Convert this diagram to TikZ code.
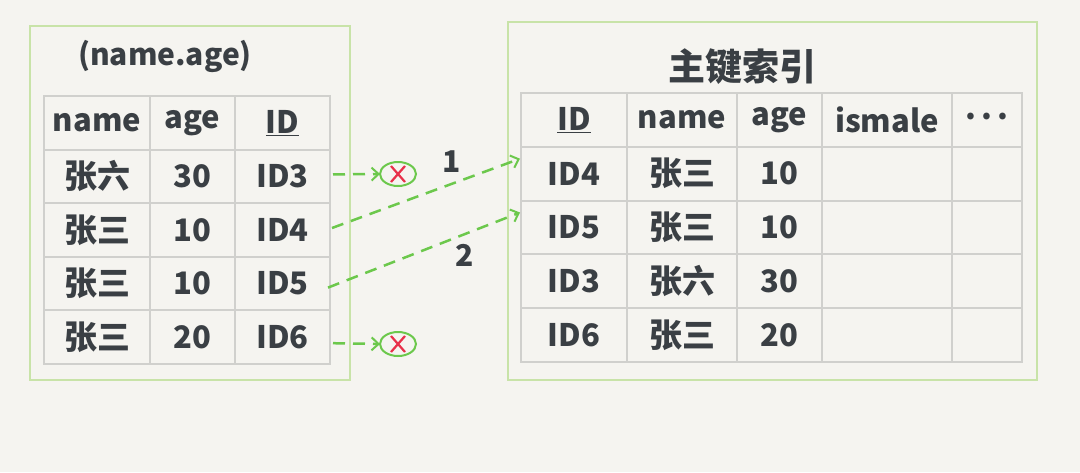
\documentclass[tikz,border=0pt]{standalone}
\usepackage{fontspec}
\setmainfont{Noto Sans CJK SC}
\usetikzlibrary{arrows.meta,shapes.geometric}
\definecolor{bg}{HTML}{F5F4F0}
\definecolor{frame}{HTML}{C8E3A8}
\definecolor{gridc}{HTML}{D0D0CD}
\definecolor{ink}{HTML}{3A3F44}
\definecolor{arr}{HTML}{6CC84C}
\definecolor{crossc}{HTML}{E8304A}
\newcommand\zhtxt[1]{{\fontsize{33}{33}\selectfont #1}}
\newcommand\dotsrow{\raisebox{7pt}{.\hspace{5pt}.\hspace{5pt}.}}
\begin{document}
\begin{tikzpicture}[x=1pt,y=-1pt,
  every node/.style={inner sep=0pt, outer sep=0pt},
  cell/.style={draw=gridc, line width=2pt, text=ink, font=\fontsize{31}{31}\selectfont\bfseries},
  outerframe/.style={draw=frame, line width=2pt},
  flow/.style={draw=arr, line width=2.5pt, dash pattern=on 12pt off 8pt, -{Straight Barb[length=7pt,width=13pt,line width=2pt]}},
  badend/.style={ellipse, draw=arr, line width=2pt, minimum width=36pt, minimum height=24pt},
  crossline/.style={draw=crossc, line width=2.2pt},
  lbl/.style={text=ink, font=\fontsize{30}{30}\selectfont\bfseries}]
\fill[bg] (0,0) rectangle (1080,472);
\useasboundingbox (0,0) rectangle (1080,472);

% frames
\draw[outerframe] (30,26) rectangle (350,380);
\draw[outerframe] (508,22) rectangle (1037,380);

% titles
\node[lbl] (ltitle) at (165,56) {(name.age)};
\node[lbl, font=\fontsize{37}{37}\selectfont\bfseries] (rtitle) at (742,67) {主键索引};

% left table
\foreach \r/\y/\a/\b/\c in {0/122.8/name/age/{\underline{ID}},1/176.4/\zhtxt{张六}/30/ID3,2/230/\zhtxt{张三}/10/ID4,3/283.6/\zhtxt{张三}/10/ID5,4/337.2/\zhtxt{张三}/20/ID6}{
  \node[cell, minimum width=106pt, minimum height=53.6pt] (L\r-1) at (97,\y) {\a};
  \node[cell, minimum width=85pt, minimum height=53.6pt] (L\r-2) at (192.5,\y) {\b};
  \node[cell, minimum width=95pt, minimum height=53.6pt] (L\r-3) at (282.5,\y) {\c};
}

% right table
\foreach \r/\y/\a/\b/\c/\d/\e in {0/119.9/{\underline{ID}}/name/age/ismale/{\dotsrow},1/173.7/ID4/\zhtxt{张三}/10//,2/227.5/ID5/\zhtxt{张三}/10//,3/281.3/ID3/\zhtxt{张六}/30//,4/335.1/ID6/\zhtxt{张三}/20//}{
  \node[cell, minimum width=106pt, minimum height=53.8pt] (R\r-1) at (574,\y) {\a};
  \node[cell, minimum width=110pt, minimum height=53.8pt] (R\r-2) at (682,\y) {\b};
  \node[cell, minimum width=85pt, minimum height=53.8pt] (R\r-3) at (779.5,\y) {\c};
  \node[cell, minimum width=130pt, minimum height=53.8pt] (R\r-4) at (887,\y) {\d};
  \node[cell, minimum width=70pt, minimum height=53.8pt] (R\r-5) at (987,\y) {\e};
}

% rejected ends
\node[badend] (X1) at (398,174) {};
\node[badend] (X2) at (398,344) {};
\foreach \n in {X1,X2}{
  \draw[crossline] ([shift={(-7,-8)}]\n.center) -- ([shift={(7,8)}]\n.center);
  \draw[crossline] ([shift={(-7,8)}]\n.center) -- ([shift={(7,-8)}]\n.center);
}

% arrows
\draw[flow] ([shift={(3,-2)}]L1-3.east) -- (X1.west);
\draw[flow] ([shift={(3,6)}]L4-3.east) -- (X2.west);
\draw[flow] ([shift={(2,-2)}]L2-3.east) -- ([shift={(-1,-15)}]R1-1.west);
\draw[flow] ([shift={(-2,4)}]L3-3.east) -- ([shift={(-1,-15)}]R2-1.west);

% labels
\node[lbl] (n1) at (452,162) {1};
\node[lbl] (n2) at (465,255) {2};
\end{tikzpicture}
\end{document}
